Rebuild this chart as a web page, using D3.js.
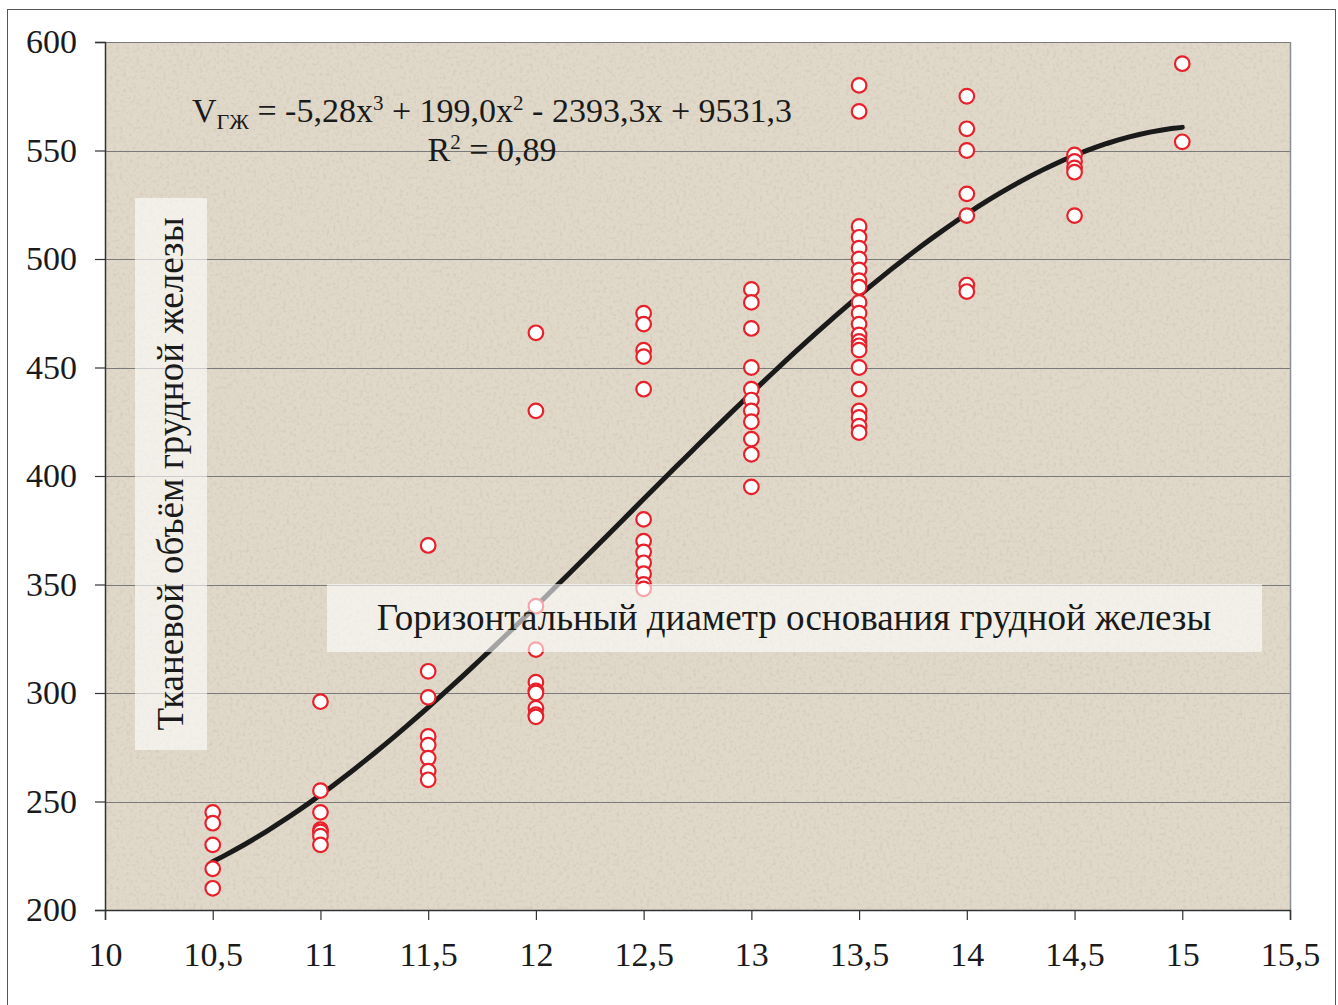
<!DOCTYPE html>
<html>
<head>
<meta charset="utf-8">
<script src="https://cdn.jsdelivr.net/npm/d3@7"></script>
<style>
  body { margin: 0; background: #fff; }
  svg, svg text { font-family: "Liberation Serif", "Times New Roman", serif; }
</style>
</head>
<body>
<svg width="1338" height="1005"></svg>
<script>
// x categories (diameter) and the measured volumes at each of them
var xGroups = [10.5, 11, 11.5, 12, 12.5, 13, 13.5, 14, 14.5, 15];
var volumes = [
  [245, 240, 230, 219, 210],
  [296, 255, 245, 237, 236, 234, 230],
  [368, 310, 298, 280, 276, 270, 264, 260],
  [466, 430, 340, 320, 305, 301, 300, 293, 290, 289],
  [475, 470, 458, 455, 440, 380, 370, 365, 360, 355, 350, 348],
  [486, 480, 468, 450, 440, 435, 430, 425, 417, 410, 395],
  [580, 568, 515, 510, 505, 500, 495, 490, 487, 480, 475, 470, 465, 462, 460, 458, 450, 440, 430, 427, 423, 420],
  [575, 560, 550, 530, 520, 488, 485],
  [548, 545, 542, 540, 520],
  [590, 554]
];
var xTicks = [10, 10.5, 11, 11.5, 12, 12.5, 13, 13.5, 14, 14.5, 15, 15.5];
var yTicks = [200, 250, 300, 350, 400, 450, 500, 550, 600];

var points = [];
xGroups.forEach(function(x, i) {
  volumes[i].forEach(function(v) { points.push({x: x, y: v}); });
});

var svg = d3.select("svg");
var pLeft = 105, pRight = 1290, pTop = 42, pBottom = 910;

var x = d3.scaleLinear().domain([10, 15.5]).range([pLeft, pRight]);
var y = d3.scaleLinear().domain([200, 600]).range([pBottom, pTop]);
var fmt = function(d) { return String(d).replace(".", ","); };

// outer frame
svg.append("rect").attr("x", 7.5).attr("y", 9.5).attr("width", 1328).attr("height", 1010)
  .attr("fill", "none").attr("stroke", "#555").attr("stroke-width", 1);

// textured plot background
var defs = svg.append("defs");
var f = defs.append("filter").attr("id", "grain").attr("x", 0).attr("y", 0).attr("width", 1).attr("height", 1);
f.append("feTurbulence").attr("type", "fractalNoise").attr("baseFrequency", 0.3)
  .attr("numOctaves", 3).attr("seed", 4).attr("result", "n");
f.append("feColorMatrix").attr("in", "n").attr("type", "matrix")
  .attr("values", "0 0 0 0 0.45  0 0 0 0 0.38  0 0 0 0 0.30  1.8 0 0 0 -0.85");
svg.append("rect").attr("x", pLeft).attr("y", pTop).attr("width", pRight - pLeft).attr("height", pBottom - pTop)
  .attr("fill", "#e0d8c9");
svg.append("rect").attr("x", pLeft).attr("y", pTop).attr("width", pRight - pLeft).attr("height", pBottom - pTop)
  .attr("filter", "url(#grain)").attr("opacity", 0.35);

// gridlines
svg.append("g").selectAll("line").data(yTicks.slice(1)).join("line")
  .attr("x1", pLeft).attr("x2", pRight)
  .attr("y1", function(d) { return Math.round(y(d)) + 0.5; })
  .attr("y2", function(d) { return Math.round(y(d)) + 0.5; })
  .attr("stroke", "#7a7a7a").attr("stroke-width", 1);
svg.append("line").attr("x1", pRight + 0.5).attr("x2", pRight + 0.5).attr("y1", pTop).attr("y2", pBottom)
  .attr("stroke", "#8a8f96").attr("stroke-width", 1.5);

// axes
var xAxis = svg.append("g").attr("transform", "translate(0," + pBottom + ")")
  .call(d3.axisBottom(x).tickValues(xTicks).tickFormat(fmt).tickSize(10).tickPadding(15));
var yAxis = svg.append("g").attr("transform", "translate(" + pLeft + ",0)")
  .call(d3.axisLeft(y).tickValues(yTicks).tickSize(10).tickPadding(18));
[xAxis, yAxis].forEach(function(a) {
  a.attr("font-family", null).attr("font-size", null);
  a.select(".domain").attr("stroke", "#333").attr("stroke-width", 1.5);
  a.selectAll(".tick line").attr("stroke", "#333").attr("stroke-width", 1.2);
  a.selectAll("text").style("font-size", "34px").attr("fill", "#1a1a1a")
    .style("font-family", "'Liberation Serif', serif");
});
xAxis.selectAll("text").attr("dy", "0.9em");

// cubic least-squares trend computed from the points
function fitCubic(pts) {
  var c = 12.75, A = [], b = [0, 0, 0, 0];
  for (var i = 0; i < 4; i++) A.push([0, 0, 0, 0]);
  pts.forEach(function(p) {
    var t = p.x - c, pw = [1, t, t * t, t * t * t];
    for (var i = 0; i < 4; i++) {
      b[i] += pw[i] * p.y;
      for (var j = 0; j < 4; j++) A[i][j] += pw[i] * pw[j];
    }
  });
  for (var k = 0; k < 4; k++) {
    for (var r = k + 1; r < 4; r++) {
      var m = A[r][k] / A[k][k];
      for (var j = k; j < 4; j++) A[r][j] -= m * A[k][j];
      b[r] -= m * b[k];
    }
  }
  var s = [0, 0, 0, 0];
  for (var k = 3; k >= 0; k--) {
    var acc = b[k];
    for (var j = k + 1; j < 4; j++) acc -= A[k][j] * s[j];
    s[k] = acc / A[k][k];
  }
  return function(xv) { var t = xv - c; return s[0] + s[1] * t + s[2] * t * t + s[3] * t * t * t; };
}
var trend = fitCubic(points);
var trendPts = d3.range(10.5, 15.001, 0.05).map(function(v) { return [v, trend(v)]; });

svg.append("path").datum(trendPts)
  .attr("d", d3.line().x(function(d) { return x(d[0]); }).y(function(d) { return y(d[1]); }))
  .attr("fill", "none").attr("stroke", "#1a1a1a").attr("stroke-width", 5)
  .attr("stroke-linecap", "round");

// points
svg.append("g").selectAll("circle").data(points).join("circle")
  .attr("cx", function(d) { return x(d.x); })
  .attr("cy", function(d) { return y(d.y); })
  .attr("r", 7.3)
  .attr("fill", "#fff").attr("stroke", "#e8202a").attr("stroke-width", 2.2);

// equation
var eq = svg.append("text").attr("x", 492).attr("y", 122).attr("text-anchor", "middle")
  .attr("font-size", 34).attr("fill", "#1a1a1a");
eq.append("tspan").text("V");
eq.append("tspan").attr("font-size", 22).attr("dy", 7).text("ГЖ");
eq.append("tspan").attr("dy", -7).text(" = -5,28x");
eq.append("tspan").attr("font-size", 21).attr("dy", -12).text("3");
eq.append("tspan").attr("dy", 12).text(" + 199,0x");
eq.append("tspan").attr("font-size", 21).attr("dy", -12).text("2");
eq.append("tspan").attr("dy", 12).text(" - 2393,3x + 9531,3");

var r2 = svg.append("text").attr("x", 492).attr("y", 161).attr("text-anchor", "middle")
  .attr("font-size", 34).attr("fill", "#1a1a1a");
r2.append("tspan").text("R");
r2.append("tspan").attr("font-size", 21).attr("dy", -12).text("2");
r2.append("tspan").attr("dy", 12).text(" = 0,89");

// axis titles on translucent boxes
svg.append("rect").attr("x", 327).attr("y", 584).attr("width", 935).attr("height", 68)
  .attr("fill", "#fff").attr("opacity", 0.6);
svg.append("text").attr("x", 794).attr("y", 630).attr("text-anchor", "middle")
  .attr("font-size", 37).attr("fill", "#1a1a1a")
  .text("Горизонтальный диаметр основания грудной железы");

svg.append("rect").attr("x", 135).attr("y", 198).attr("width", 72).attr("height", 552)
  .attr("fill", "#fff").attr("opacity", 0.6);
svg.append("text").attr("transform", "translate(183,474) rotate(-90)").attr("text-anchor", "middle")
  .attr("font-size", 37).attr("fill", "#1a1a1a")
  .text("Тканевой объём грудной  железы");
</script>
</body>
</html>
